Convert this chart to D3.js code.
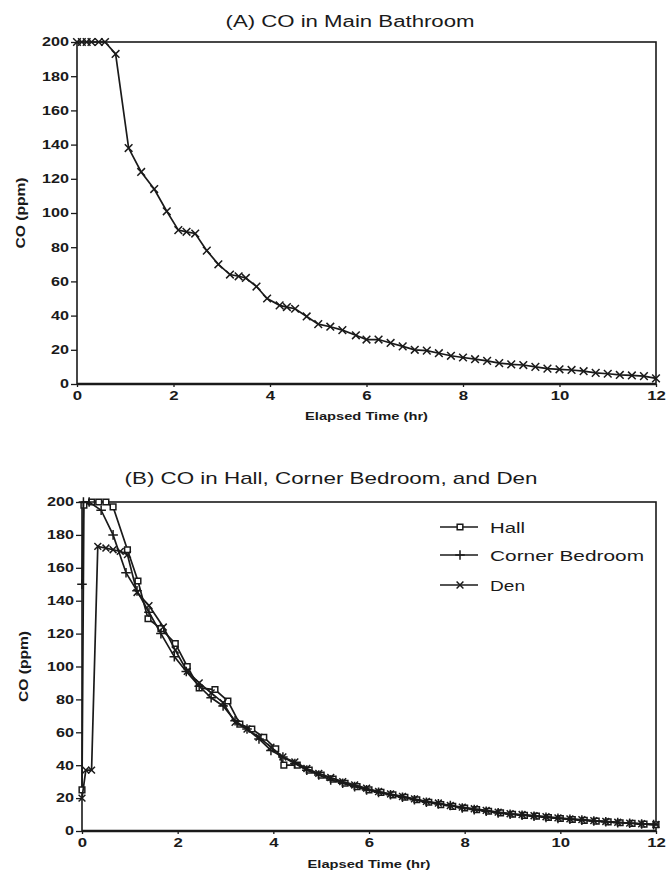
<!DOCTYPE html>
<html>
<head>
<meta charset="utf-8">
<script src="https://cdn.jsdelivr.net/npm/d3@7"></script>
<style>
  body { margin: 0; background: #fff; }
  text { font-family: "Liberation Sans", Arial, sans-serif; fill: #1a1a1a; }
</style>
</head>
<body>
<div id="chart"></div>
<script>
// ============================================================================
// DATA  (time in hours, CO in ppm)
// ============================================================================

const xTicks = [0, 2, 4, 6, 8, 10, 12];
const yTicks = [0, 20, 40, 60, 80, 100, 120, 140, 160, 180, 200];

// (A) Main Bathroom
const bathroom = [
  [0, 200], [0.1, 200], [0.2, 200], [0.3, 200], [0.45, 200], [0.58, 200],
  [0.8, 193], [1.07, 138], [1.33, 124], [1.6, 114], [1.86, 101], [2.1, 90],
  [2.27, 89], [2.45, 88], [2.69, 78], [2.93, 70], [3.17, 64], [3.35, 63],
  [3.5, 62], [3.72, 57], [3.94, 50], [4.2, 46], [4.35, 45], [4.52, 44],
  [4.76, 39.5], [5.0, 35], [5.25, 33.5], [5.5, 31.5], [5.78, 28.5], [6.0, 26],
  [6.25, 26], [6.5, 24], [6.75, 22], [7.0, 20], [7.25, 19.5], [7.5, 18],
  [7.75, 16.5], [8.0, 15.5], [8.25, 14.5], [8.5, 13.5], [8.75, 12.2], [9.0, 11.5],
  [9.25, 11.1], [9.5, 10], [9.75, 9], [10.0, 8.6], [10.25, 8.2], [10.5, 7.5],
  [10.75, 6.5], [11.0, 6], [11.25, 5.3], [11.5, 5], [11.75, 4.6], [12.0, 3.3]
];

// (B) Hall
const hall = [
  [0, 25], [0.04, 198], [0.2, 200], [0.35, 200], [0.5, 200], [0.65, 197],
  [0.95, 171], [1.17, 152], [1.38, 129], [1.65, 123], [1.95, 114], [2.2, 100],
  [2.45, 87], [2.78, 86], [3.05, 79], [3.3, 65], [3.55, 62], [3.8, 57],
  [4.05, 50], [4.22, 40], [4.5, 40], [4.75, 37], [5.0, 34], [5.25, 31.5],
  [5.5, 29], [5.75, 27], [6.0, 25], [6.25, 23.5], [6.5, 22], [6.75, 20.5],
  [7.0, 19], [7.25, 17.5], [7.5, 16], [7.75, 15], [8.0, 14], [8.25, 13],
  [8.5, 12], [8.75, 11], [9.0, 10.2], [9.25, 9.5], [9.5, 9], [9.75, 8.2],
  [10.0, 7.6], [10.25, 7], [10.5, 6.5], [10.75, 6], [11.0, 5.5], [11.25, 5],
  [11.5, 4.6], [11.75, 4.2], [12.0, 3.8]
];

// (B) Corner Bedroom
const bedroom = [
  [0, 150], [0.03, 200], [0.15, 200], [0.4, 195], [0.65, 180], [0.92, 157],
  [1.15, 146], [1.4, 133], [1.65, 120], [1.93, 106], [2.18, 97], [2.45, 88],
  [2.7, 81], [2.95, 76], [3.2, 67], [3.45, 62], [3.7, 56], [3.95, 49],
  [4.2, 45], [4.45, 41], [4.7, 37], [4.95, 34], [5.2, 31], [5.45, 29],
  [5.7, 27], [5.95, 25], [6.2, 23.5], [6.45, 22], [6.7, 20.5], [6.95, 19],
  [7.2, 17.5], [7.45, 16.5], [7.7, 15.5], [7.95, 14], [8.2, 13], [8.45, 12],
  [8.7, 11], [8.95, 10.2], [9.2, 9.6], [9.45, 9], [9.7, 8.3], [9.95, 7.7],
  [10.2, 7.1], [10.45, 6.6], [10.7, 6.1], [10.95, 5.6], [11.2, 5.1], [11.45, 4.7],
  [11.7, 4.3], [11.95, 3.9]
];

// (B) Den
const den = [
  [0, 20], [0.08, 37], [0.2, 37], [0.33, 173], [0.5, 172], [0.65, 171],
  [0.8, 170], [0.95, 168], [1.15, 145], [1.4, 137], [1.7, 124], [1.95, 110],
  [2.2, 97], [2.45, 90], [2.7, 84], [2.95, 78], [3.2, 66], [3.45, 62],
  [3.7, 57], [3.95, 51], [4.2, 45], [4.45, 42], [4.7, 38], [4.95, 35],
  [5.2, 32.5], [5.45, 30], [5.7, 28], [5.95, 26], [6.2, 24], [6.45, 22.5],
  [6.7, 21], [6.95, 19.5], [7.2, 18], [7.45, 17], [7.7, 15.5], [7.95, 14.5],
  [8.2, 13.5], [8.45, 12.5], [8.7, 11.5], [8.95, 10.5], [9.2, 10], [9.45, 9.3],
  [9.7, 8.7], [9.95, 8], [10.2, 7.4], [10.45, 6.9], [10.7, 6.3], [10.95, 5.8],
  [11.2, 5.3], [11.45, 4.8], [11.7, 4.4], [12.0, 4]
];

// ============================================================================
// SVG SETUP
// ============================================================================

const ink = '#1a1a1a';
const svg = d3.select('#chart')
    .append('svg')
    .attr('width', 672)
    .attr('height', 873);

const symTimes = d3.symbolTimes || d3.symbolCross;
const symPlus = d3.symbolPlus || d3.symbolCross;

// ============================================================================
// PANEL (frame, axes, labels)
// ============================================================================

function drawPanel(p) {
    const x = d3.scaleLinear().domain([0, 12]).range([p.left, p.right]);
    const y = d3.scaleLinear().domain([0, 200]).range([p.bottom, p.top]);

    // x axis
    const gx = svg.append('g')
        .attr('transform', `translate(0, ${p.bottom})`)
        .call(d3.axisBottom(x).tickValues(xTicks).tickSize(3).tickPadding(4));
    gx.select('.domain').remove();
    gx.selectAll('line').attr('stroke', ink).attr('stroke-width', 1.3);
    gx.selectAll('text')
        .attr('transform', 'scale(1.4,1)')
        .style('font-size', '12px')
        .style('font-weight', 'bold')
        .attr('fill', ink);

    // y axis
    const gy = svg.append('g')
        .attr('transform', `translate(${p.left}, 0)`)
        .call(d3.axisLeft(y).tickValues(yTicks).tickSize(6));
    gy.select('.domain').remove();
    gy.selectAll('line').attr('stroke', ink).attr('stroke-width', 1.3);
    gy.selectAll('text')
        .attr('x', -8 / 1.35)
        .attr('transform', 'scale(1.35,1)')
        .style('font-size', '12px')
        .style('font-weight', 'bold')
        .attr('fill', ink);

    // frame
    svg.append('rect')
        .attr('x', p.left).attr('y', p.top)
        .attr('width', p.right - p.left).attr('height', p.bottom - p.top)
        .attr('fill', 'none').attr('stroke', ink).attr('stroke-width', 1.6);
    svg.append('line')
        .attr('x1', p.left).attr('x2', p.right)
        .attr('y1', p.bottom).attr('y2', p.bottom)
        .attr('stroke', ink).attr('stroke-width', 2.4);

    // title
    svg.append('text')
        .attr('x', p.titleX).attr('y', p.titleY)
        .attr('text-anchor', 'middle')
        .attr('textLength', p.titleLen).attr('lengthAdjust', 'spacingAndGlyphs')
        .style('font-size', p.titleSize + 'px')
        .text(p.title);

    // x label
    svg.append('text')
        .attr('x', (p.left + p.right) / 2).attr('y', p.xLabelY)
        .attr('text-anchor', 'middle')
        .attr('textLength', 123).attr('lengthAdjust', 'spacingAndGlyphs')
        .style('font-size', '11px').style('font-weight', 'bold')
        .text('Elapsed Time (hr)');

    // y label
    svg.append('text')
        .attr('transform', `translate(${p.yLabelX}, ${(p.top + p.bottom) / 2}) rotate(-90)`)
        .attr('text-anchor', 'middle')
        .attr('textLength', 71).attr('lengthAdjust', 'spacingAndGlyphs')
        .style('font-size', '12px').style('font-weight', 'bold')
        .text('CO (ppm)');

    return { x, y };
}

function drawSeries(sc, data, symbolType, size, fill) {
    const line = d3.line().x(d => sc.x(d[0])).y(d => sc.y(d[1]));
    svg.append('path')
        .datum(data)
        .attr('fill', 'none')
        .attr('stroke', ink)
        .attr('stroke-width', 1.7)
        .attr('d', line);
    svg.append('g').selectAll('path')
        .data(data)
        .join('path')
        .attr('transform', d => `translate(${sc.x(d[0])}, ${sc.y(d[1])})`)
        .attr('d', d3.symbol(symbolType, size))
        .attr('fill', fill)
        .attr('stroke', ink)
        .attr('stroke-width', 1.5);
}

// ============================================================================
// (A) CO IN MAIN BATHROOM
// ============================================================================

const scA = drawPanel({
    left: 77, right: 656, top: 42, bottom: 384,
    title: '(A) CO in Main Bathroom', titleX: 350, titleY: 27, titleLen: 249, titleSize: 16,
    xLabelY: 420, yLabelX: 25
});
drawSeries(scA, bathroom, symTimes, 40, 'none');

// ============================================================================
// (B) CO IN HALL, CORNER BEDROOM, AND DEN
// ============================================================================

const scB = drawPanel({
    left: 82, right: 656, top: 502, bottom: 831,
    title: '(B) CO in Hall, Corner Bedroom, and Den', titleX: 331, titleY: 484, titleLen: 413, titleSize: 17,
    xLabelY: 868, yLabelX: 28
});

const seriesB = [
    { name: 'Hall', values: hall, sym: d3.symbolSquare, size: 32, fill: '#fff' },
    { name: 'Corner Bedroom', values: bedroom, sym: symPlus, size: 32, fill: 'none' },
    { name: 'Den', values: den, sym: symTimes, size: 32, fill: 'none' }
];
seriesB.forEach(s => drawSeries(scB, s.values, s.sym, s.size, s.fill));

// ============================================================================
// LEGEND
// ============================================================================

const legendY = [527, 555, 585];
const legendLen = [35, 154, 35];

seriesB.forEach((s, i) => {
    const row = svg.append('g').attr('transform', `translate(440, ${legendY[i]})`);
    row.append('line')
        .attr('x1', 0).attr('x2', 38).attr('y1', 0).attr('y2', 0)
        .attr('stroke', ink).attr('stroke-width', 1.7);
    row.append('path')
        .attr('transform', 'translate(20, 0)')
        .attr('d', d3.symbol(s.sym, s.size))
        .attr('fill', s.fill).attr('stroke', ink).attr('stroke-width', 1.5);
    row.append('text')
        .attr('x', 50).attr('y', 5.5)
        .attr('textLength', legendLen[i]).attr('lengthAdjust', 'spacingAndGlyphs')
        .style('font-size', '15px')
        .text(s.name);
});
</script>
</body>
</html>
